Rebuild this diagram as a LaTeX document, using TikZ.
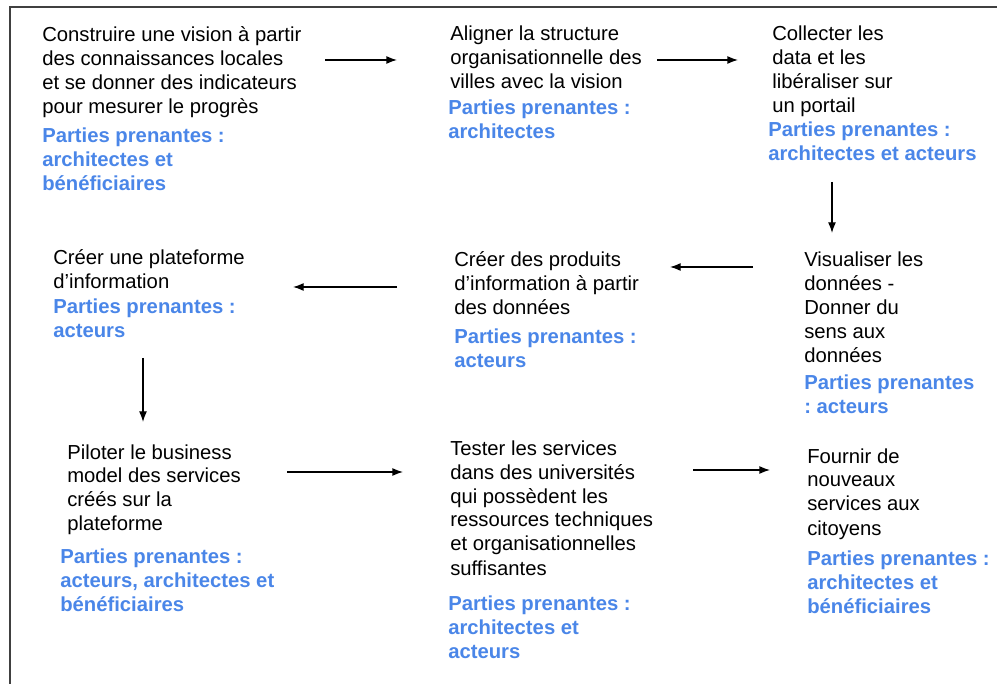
\documentclass[tikz,border=0pt]{standalone}
\usepackage{fontspec}
\setmainfont{Liberation Sans}
\usetikzlibrary{arrows.meta}
\definecolor{stakeblue}{HTML}{4A86E8}
\frenchspacing

\begin{document}
\begin{tikzpicture}[x=0.75pt, y=-0.75pt,
  task/.style={anchor=base west, align=left, inner sep=0pt, font=\fontsize{15.2}{18}\selectfont},
  who/.style={task, text=stakeblue, font=\fontsize{15.2}{18}\selectfont\bfseries},
  flow/.style={-{Latex[length=8pt,width=6pt]}, line width=1pt}]
\useasboundingbox (0,0) rectangle (997,684);
\draw[line width=1.5pt, black!75] (9.5,684) -- (9.5,7.5) -- (997,7.5);

\node[task] (vision) at (42,114) {Construire une vision à partir\\des connaissances locales\\et se donner des indicateurs\\pour mesurer le progrès};
\node[who] (vision_who) at (42,191) {Parties prenantes :\\architectes et\\bénéficiaires};

\node[task] (align) at (450,89) {Aligner la structure\\organisationnelle des\\villes avec la vision};
\node[who] (align_who) at (448,139) {Parties prenantes :\\architectes};

\node[task] (collect) at (772,113) {Collecter les\\data et les\\libéraliser sur\\un portail};
\node[who] (collect_who) at (768,161) {Parties prenantes :\\architectes et acteurs};

\node[task] (visual) at (804,363) {Visualiser les\\données -\\Donner du\\sens aux\\données};
\node[who] (visual_who) at (804,414) {Parties prenantes\\: acteurs};

\node[task] (products) at (454,315) {Créer des produits\\d’information à partir\\des données};
\node[who] (products_who) at (454,368) {Parties prenantes :\\acteurs};

\node[task] (platform) at (53,289) {Créer une plateforme\\d’information};
\node[who] (platform_who) at (53,338) {Parties prenantes :\\acteurs};

\node[task] (pilot) at (67,531) {Piloter le business\\model des services\\créés sur la\\plateforme};
\node[who] (pilot_who) at (60,611) {Parties prenantes :\\acteurs, architectes et\\bénéficiaires};

\node[task] (test) at (450,575) {Tester les services\\dans des universités\\qui possèdent les\\ressources techniques\\et organisationnelles\\suffisantes};
\node[who] (test_who) at (448,658) {Parties prenantes :\\architectes et\\acteurs};

\node[task] (supply) at (807,535) {Fournir de\\nouveaux\\services aux\\citoyens};
\node[who] (supply_who) at (807,613) {Parties prenantes :\\architectes et\\bénéficiaires};

\coordinate (P1s) at (325,60);  \coordinate (P1e) at (397,60);
\coordinate (P2s) at (657,60);  \coordinate (P2e) at (738,60);
\coordinate (P3s) at (832,182); \coordinate (P3e) at (832,233);
\coordinate (P4s) at (753,267); \coordinate (P4e) at (670,267);
\coordinate (P5s) at (397,287); \coordinate (P5e) at (293,287);
\coordinate (P6s) at (143,358); \coordinate (P6e) at (143,422);
\coordinate (P7s) at (287,472); \coordinate (P7e) at (403,472);
\coordinate (P8s) at (693,470); \coordinate (P8e) at (770,470);

\draw[flow] (P1s) -- (P1e);
\draw[flow] (P2s) -- (P2e);
\draw[flow] (P3s) -- (P3e);
\draw[flow] (P4s) -- (P4e);
\draw[flow] (P5s) -- (P5e);
\draw[flow] (P6s) -- (P6e);
\draw[flow] (P7s) -- (P7e);
\draw[flow] (P8s) -- (P8e);

\end{tikzpicture}
\end{document}
